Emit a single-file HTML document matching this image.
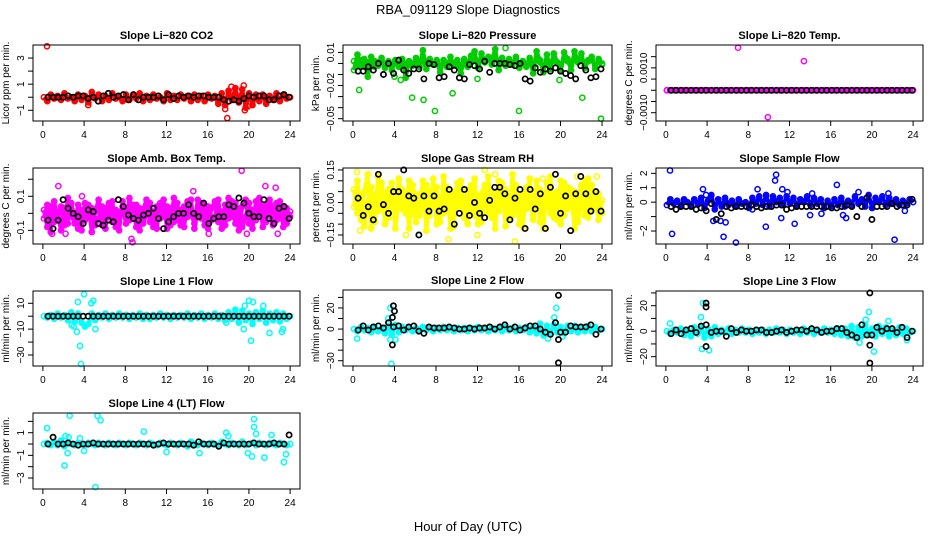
<!DOCTYPE html>
<html><head><meta charset="utf-8">
<style>
html,body{margin:0;padding:0;background:#fff;}
svg{display:block;font-family:"Liberation Sans",sans-serif;}
</style></head>
<body>
<svg id="chart" width="936" height="540" viewBox="0 0 936 540" xmlns="http://www.w3.org/2000/svg">
<rect x="0" y="0" width="936" height="540" fill="#fff"/>
<text x="468" y="14" text-anchor="middle" font-size="13">RBA_091129  Slope Diagnostics</text>
<text x="468" y="531" text-anchor="middle" font-size="13">Hour of Day (UTC)</text>
</svg>
<script>
const xTicks = [0,4,8,12,16,20,24];
const co2Color = [0.0,-0.3,0.2,-0.1,0.1,-0.2,0.3,-0.1,0.0,-0.3,0.2,-0.2,0.1,-0.4,0.4,-0.1,0.2,-0.3,0.1,-0.2,0.3,-0.1,0.0,-0.3,0.2,-0.2,0.1,-0.1,0.3,-0.3,0.1,-0.2,0.2,-0.1,0.0,-0.3,0.3,-0.2,0.1,-0.2,0.2,-0.1,0.1,-0.3,0.2,-0.2,0.1,-0.3,0.2,-0.1,0.1,-0.5,0.3,-0.6,0.5,-0.2,0.7,-0.4,0.6,-0.8,0.3,-0.6,0.2,-0.3,0.2,-0.5,0.1,-0.2,0.3,-0.3,0.2,-0.1,0.0];
const co2Out = [[0.4,3.9],[17.9,-1.6],[17.7,-0.9],[19.6,-1.0],[18.3,0.8],[19.5,0.9],[4.4,-0.6],[19.9,-0.7]];
const co2Black = [0.0,0.0,0.0,0.0,0.1,0.0,0.1,0.1,-0.1,0.0,-0.3,0.1,0.3,0.0,0.1,0.2,-0.2,0.2,-0.2,0.0,0.0,0.0,0.1,-0.2,0.2,-0.1,0.1,0.0,0.1,0.0,0.1,0.1,0.0,0.0,0.0,-0.2,-0.3,-0.2,-0.3,-0.1,0.1,0.0,0.1,0.1,-0.2,-0.2,0.1,0.2,0.0];

const presColor = [-0.006,0.008,-0.002,0.004,-0.012,0.006,-0.003,0.001,0.005,-0.004,0.002,-0.006,0.003,-0.001,0.004,-0.013,0.002,-0.002,0.005,-0.003,0.012,-0.005,0.004,-0.001,0.002,-0.008,0.003,-0.003,0.006,-0.002,0.001,-0.009,0.004,-0.001,0.007,0.011,-0.004,0.009,0.001,0.006,0.003,0.013,-0.006,0.005,-0.002,0.004,-0.001,0.006,-0.004,0.002,-0.003,0.005,-0.009,0.011,0.003,-0.008,0.008,-0.005,0.009,0.001,-0.007,0.010,0.004,-0.006,0.011,0.002,0.009,-0.004,0.003,0.006,-0.005,0.004,-0.001];
const presCore = [0.002,-0.002,0.003,-0.003,0.001,-0.001,0.002,-0.002,0.003,-0.003,0.001,-0.002,0.002,-0.003,0.003,-0.001,0.002,-0.002,0.001,-0.003,0.003,-0.002,0.002,-0.001,0.003,-0.003,0.002,-0.002,0.001,-0.001,0.003,-0.002,0.002,-0.003,0.001,0.004,-0.001,0.003,0.002,0.004,-0.001,0.005,0.002,0.003,-0.002,0.002,-0.001,0.003,-0.003,0.002,-0.002,0.003,-0.002,0.004,0.001,-0.002,0.003,-0.003,0.004,0.001,-0.002,0.004,0.002,-0.002,0.004,0.001,0.003,-0.002,0.002,0.003,-0.002,0.003,0.000];
const presOut = [[0.6,-0.024],[5.7,-0.031],[6.8,-0.033],[7.9,-0.043],[9.6,-0.027],[16,-0.043],[22.1,-0.031],[23.9,-0.05],[19.9,-0.015],[12,-0.014],[4.6,-0.015],[4,-0.012],[14.7,0.014]];
const presBlack = [-0.007,-0.007,-0.003,-0.006,0.0,-0.01,0.0,-0.009,0.003,-0.006,-0.009,-0.005,-0.005,-0.014,0.0,-0.001,-0.013,-0.012,-0.003,-0.006,-0.013,-0.014,-0.001,-0.002,-0.005,0.002,-0.008,0.0,0.0,0.0,-0.001,-0.002,0.0,-0.014,-0.016,-0.004,-0.008,-0.005,-0.007,-0.004,-0.007,-0.009,-0.011,-0.014,-0.002,-0.006,-0.013,-0.012,-0.005];

const tempColor = [0,0,0,0,0,0,0,0,0,0,0,0,0,0,0,0,0,0,0,0,0,0,0,0,0,0,0,0,0,0,0,0,0,0,0,0,0,0,0,0,0,0,0,0,0,0,0,0,0,0,0,0,0,0,0,0,0,0,0,0,0,0,0,0,0,0,0,0,0,0,0,0,0];
const tempOut = [[7.0,0.0019],[13.4,0.0013],[9.9,-0.0012],[0.1,0.0]];
const tempBlack = [0,0,0,0,0,0,0,0,0,0,0,0,0,0,0,0,0,0,0,0,0,0,0,0,0,0,0,0,0,0,0,0,0,0,0,0,0,0,0,0,0,0,0,0,0,0,0,0,0];

const ambColor = [0.02,-0.08,0.04,-0.05,0.0,-0.1,0.03,-0.06,0.06,-0.03,-0.09,0.02,-0.04,0.05,-0.11,0.01,0.08,-0.07,0.03,-0.02,0.07,-0.08,0.0,0.04,-0.06,0.09,-0.03,0.05,-0.1,0.02,0.08,-0.05,0.01,-0.09,0.06,-0.02,0.04,-0.07,0.09,-0.04,0.02,-0.08,0.07,0.0,-0.06,0.08,-0.03,0.05,-0.09,0.03,0.07,-0.05,0.01,-0.07,0.09,-0.02,0.06,-0.1,0.04,0.08,-0.06,0.02,-0.04,0.09,-0.08,0.05,0.0,-0.07,0.06,-0.03,0.04,-0.06,0.01];
const ambColor2 = [-0.03,0.05,-0.11,0.07,-0.02,0.04,-0.07,0.09,-0.01,-0.06,0.05,-0.1,0.06,-0.02,0.03,-0.07,-0.03,0.04,-0.09,0.06,-0.05,0.02,-0.1,0.07,0.01,-0.04,0.05,-0.08,0.03,-0.06,-0.01,0.06,-0.08,0.04,-0.03,0.08,-0.09,0.03,-0.05,0.06,-0.07,0.04,-0.02,0.08,-0.09,0.01,0.06,-0.07,0.04,-0.04,-0.02,0.08,-0.09,0.05,-0.03,0.07,-0.06,0.03,-0.08,-0.02,0.06,-0.09,0.07,-0.01,0.04,-0.05,0.08,0.02,-0.04,0.07,-0.08,0.03,-0.02];
const ambOut = [[19.3,0.25],[8.6,-0.15],[8.7,-0.17],[1.5,0.16],[21.6,0.16],[22.6,0.15],[14.6,0.13],[3.8,0.1],[0.9,-0.12],[2.2,-0.12],[16.1,-0.12],[19.8,-0.12],[22.8,-0.12]];
const ambBlack = [-0.04,-0.09,-0.04,0.08,0.03,0.0,-0.02,-0.06,0.02,0.01,-0.06,-0.07,-0.04,-0.05,0.08,0.04,-0.01,-0.03,-0.04,-0.01,0.0,0.03,-0.03,-0.09,-0.05,-0.02,0.0,0.0,0.05,0.0,-0.02,0.06,-0.06,-0.03,-0.02,-0.02,0.05,0.04,0.09,0.06,0.0,-0.02,-0.02,0.08,-0.03,-0.06,0.03,0.04,-0.03];

const rhColor = [-0.02,0.1,-0.08,0.05,0.13,-0.12,0.03,-0.04,0.09,-0.1,0.06,0.0,-0.07,0.11,-0.03,0.04,-0.12,0.08,0.01,-0.06,0.1,-0.13,0.05,-0.02,0.07,-0.09,0.12,-0.04,0.03,-0.11,0.09,0.0,-0.07,0.06,-0.03,0.11,-0.1,0.04,0.08,-0.05,0.02,-0.12,0.1,-0.01,0.06,-0.08,0.13,-0.04,0.03,-0.11,0.07,0.0,-0.06,0.1,-0.09,0.04,-0.02,0.12,-0.07,0.05,-0.1,0.09,-0.03,0.06,-0.12,0.02,0.08,-0.06,0.11,-0.04,0.05,-0.08,0.01];
const rhColor2 = [0.06,-0.05,0.03,-0.11,0.0,0.07,-0.09,0.12,-0.03,0.04,-0.07,0.09,-0.12,0.02,0.06,-0.05,0.1,-0.02,-0.09,0.04,-0.03,0.08,-0.06,0.11,-0.1,0.02,-0.05,0.07,-0.12,0.05,-0.02,0.1,-0.04,-0.1,0.08,-0.06,0.03,-0.09,0.01,0.12,-0.07,0.05,-0.04,0.09,-0.11,0.03,-0.06,0.08,-0.1,0.04,-0.03,0.11,-0.08,0.02,0.06,-0.12,0.09,-0.05,0.03,-0.08,0.1,-0.06,0.07,-0.02,0.05,-0.09,0.0,0.1,-0.07,0.08,-0.02,0.04,-0.05];
const rhOut = [[0.4,0.14],[0.7,-0.13],[9.2,-0.17],[12,-0.15],[12.7,0.15],[15.6,-0.18],[13.7,0.13],[5.1,-0.15],[16.5,-0.12],[23.5,0.12],[18.3,0.11],[21.6,0.12]];
const rhBlack = [0.02,-0.06,-0.02,-0.08,0.13,-0.01,-0.05,0.05,0.05,0.15,0.03,0.02,-0.15,0.03,-0.04,0.03,-0.04,-0.03,0.06,-0.1,-0.05,0.06,-0.06,0.0,-0.05,-0.07,0.01,0.07,0.07,0.04,-0.08,0.02,0.06,-0.12,0.06,-0.03,0.04,-0.12,0.07,0.13,-0.05,0.03,-0.13,0.04,0.12,0.04,-0.04,0.05,-0.04];

const flowColor = [-0.2,0.2,-0.1,0.1,-0.3,0.2,0.0,-0.2,0.2,-0.1,0.3,-0.4,0.1,0.5,-0.5,0.2,-0.3,0.3,-0.2,0.1,-0.3,0.2,-0.1,0.0,-0.4,0.3,-0.1,0.4,-0.2,0.5,-0.3,0.4,0.0,0.3,-0.2,0.4,-0.1,0.3,-0.3,0.2,0.0,0.4,-0.2,0.3,-0.1,0.2,-0.4,0.1,-0.3,0.2,-0.2,0.3,-0.3,0.1,-0.2,0.4,-0.1,0.2,-0.3,0.5,-0.4,0.3,0.0,0.4,-0.2,0.3,-0.1,0.2,-0.2,0.1,-0.1,0.2,0.0];
const flowOut = [[0.4,2.2],[0.6,-2.2],[3.6,0.9],[4.6,-1.3],[5.3,-1.3],[5.6,-2.4],[5.8,-1.4],[6.8,-2.8],[8.9,0.9],[9.7,-1.7],[10.6,1.5],[10.7,1.9],[11.2,-1.1],[11.3,0.9],[11.8,0.7],[12.5,-1.5],[14.0,-0.9],[14.2,0.6],[15.1,-0.8],[16.6,1.2],[17.2,-0.9],[17.5,-1.1],[18.7,0.7],[21.6,0.6],[22.2,-2.6],[23.2,-0.6],[8.4,-0.5],[3.9,0.5]];
const flowBlack = [-0.3,-0.5,-0.3,-0.3,-0.3,-0.5,-0.4,-0.6,-0.1,-1.2,-0.8,-0.3,-0.4,-0.3,-0.3,-0.3,-0.2,-0.3,-0.4,-0.3,-0.3,-0.2,-0.2,-0.5,-0.4,-0.3,-0.3,-0.3,-0.3,-0.3,-0.3,-0.3,-0.4,-0.4,-0.3,-0.2,-0.3,-1.0,-0.3,0.3,-1.2,-0.3,-0.3,-0.3,-0.1,-0.3,-0.2,-0.2,0.2];

const l1Color = [0,-1,1,-2,2,-1,1,-3,3,-4,2,-5,-8,-6,2,-3,1,-1,2,-2,1,-1,2,-1,1,-2,1,-1,2,-2,1,-2,1,-1,2,-1,1,-2,1,-1,1,-1,2,-2,1,-1,2,-2,1,-1,2,-2,1,-3,3,-2,5,-5,4,-3,2,-6,3,-2,4,-5,2,-3,3,-4,2,-2,0];
const l1Out = [[3.7,-37],[3.6,-23],[3.3,-12],[3.4,11],[4.0,17],[4.7,10],[4.9,12],[5.1,-10],[3.0,-8],[2.8,-7],[20.2,-19],[20.0,12],[19.6,8],[20.4,11],[22.0,-13],[23.2,-12],[23.3,-10],[21.4,8],[19.5,-10],[17.8,-5]];
const l1Black = [0,0,0,0,0,0,0,0,0,0,0,0,0,0,0,0,0,0,0,0,0,0,0,0,0,0,0,0,0,0,0,0,0,0,0,0,0,0,0,0,0,0,0,0,0,0,0,0,0];

const l2Color = [0,-2,2,-1,1,-3,2,-2,1,-4,3,-5,4,-3,2,-1,1,-2,1,-1,2,-1,1,-2,1,-1,2,-1,1,-2,1,-1,1,-2,1,-1,2,-1,1,-2,1,-1,1,-2,2,-1,1,-2,1,-1,2,-3,2,-4,5,-6,3,-5,4,-3,2,-4,3,-2,3,-3,2,-2,3,-2,2,-1,0];
const l2Out = [[3.7,-33],[3.6,20],[3.6,-10],[4.1,-10],[0.4,-9],[19.6,20],[19.4,11],[18.8,-9],[20.2,-7],[3.4,10]];
const l2Black = [-1,3,-1,2,3,1,6,2,3,-1,2,3,-2,-4,2,1,1,1,2,1,0,0,1,0,1,1,2,0,2,4,0,2,-1,1,3,3,0,-3,-5,6,-3,-3,3,2,2,2,4,-5,0];
const l2BlackOut = [[3.9,22],[4.0,17],[3.8,11],[3.8,-15],[19.8,32],[19.8,-32],[19.8,-10]];

const l3Color = [0,-2,1,-1,2,-3,1,-4,3,-2,4,-5,2,-4,3,-2,1,-1,2,-2,1,-1,2,-1,1,-2,1,-1,1,-2,1,-1,2,-1,1,-2,1,-1,1,-2,2,-1,1,-2,1,-1,2,-1,1,-2,2,-3,2,-4,4,-5,3,-4,5,-3,2,-4,4,-2,3,-4,2,-3,3,-2,2,-1,0];
const l3Out = [[3.6,22],[3.4,11],[3.5,-14],[4.2,-15],[0.4,6],[19.7,15],[19.4,9],[20.2,-16],[18.8,-9],[21.6,8],[23.4,-7]];
const l3Black = [-2,1,-2,1,2,-1,4,5,-1,0,0,-4,2,-1,1,0,0,1,1,-1,-1,0,1,-1,0,1,1,0,2,1,-1,0,0,2,2,-1,-3,-5,5,-3,-3,3,0,2,2,-1,3,-5,0];
const l3BlackOut = [[3.9,22],[3.9,19],[3.9,-12],[19.8,30],[19.8,-25],[19.8,-11]];

const l4Color = [0,0.1,-0.1,0.2,-0.1,0.3,-0.2,0.1,0,-0.1,0.1,0,-0.1,0.1,0,-0.1,0.1,0,-0.1,0.1,0,-0.1,0.1,0,-0.1,0.1,0,-0.1,0.1,0,-0.1,0.1,0,-0.1,0.1,0,-0.1,0.1,0,-0.1,0.1,0,-0.2,0.2,0,-0.1,0.1,0,-0.1,0.1,0,-0.1,0.2,0,-0.1,0.1,0,-0.1,0.2,-0.1,0,0.1,-0.1,0.1,0,-0.1,0.1,0,-0.1,0.1,0,-0.1,0];
const l4Out = [[2.6,2.5],[5.3,2.5],[5.6,2.1],[0.4,1.4],[2.1,-1.9],[2.4,-0.8],[5.1,-3.8],[9.8,1.1],[12,-0.7],[15.2,-0.8],[17.8,1.0],[18,0.7],[20.5,2.2],[20.5,1.5],[20.7,0.9],[19.9,-0.8],[20.3,-1.1],[21.5,-1.2],[22.2,0.8],[23.4,-1.6],[23.6,-0.9],[2.2,0.7],[2.5,0.6],[3.6,0.5],[4.0,-0.6]];
const l4Black = [0,0.6,0,0,0.1,0,-0.1,0,0,0.1,0,0,0,0,0,0,0,0,0,0,0,-0.1,0,0.1,0,0,0,0,0,-0.1,0.2,0,0,0,-0.2,0.1,0,0,0,0,0,0.1,0,0,0,0.1,0,0,0.8];

const ns = "http://www.w3.org/2000/svg";
const svg = document.getElementById('chart');
function mk(tag, attrs, parent){ const e=document.createElementNS(ns,tag); for(const k in attrs) e.setAttribute(k,attrs[k]); (parent||svg).appendChild(e); return e; }

const panels = [
 {id:'co2',title:'Slope Li\u2212820 CO2',ylab:'Licor ppm per min.',L:33,T:45,R:300,B:121,ymin:-1.82,ymax:4.0,ticks:[-1,0,1,2,3],labs:{'-1':'\u22121','1':'1','3':'3'},col:'#ff0000',series:[co2Color],out:co2Out,black:co2Black},
 {id:'pressure',title:'Slope Li\u2212820 Pressure',ylab:'kPa per min.',L:343,T:45,R:612,B:121,ymin:-0.0521,ymax:0.0167,ticks:[0.01,0,-0.01,-0.02,-0.03,-0.04,-0.05],labs:{'0.01':'0.01','-0.02':'\u22120.02','-0.05':'\u22120.05'},col:'#00cc00',series:[presColor,presCore],out:presOut,black:presBlack},
 {id:'temp',title:'Slope Li\u2212820 Temp.',ylab:'degrees C per min.',L:656,T:45,R:923,B:121,ymin:-0.00137,ymax:0.00202,ticks:[-0.001,-0.0005,0,0.0005,0.001,0.0015],labs:{'-0.001':'\u22120.0010','0.001':'0.0010'},col:'#ff00ff',series:[tempColor],out:tempOut,black:tempBlack},
 {id:'amb',title:'Slope Amb. Box Temp.',ylab:'degrees C per min.',L:33,T:168,R:300,B:244,ymin:-0.18,ymax:0.266,ticks:[-0.1,0,0.1,0.2],labs:{'-0.1':'\u22120.1','0.1':'0.1'},col:'#ff00ff',series:[ambColor,ambColor2],out:ambOut,black:ambBlack},
 {id:'rh',title:'Slope Gas Stream RH',ylab:'percent per min.',L:343,T:168,R:612,B:244,ymin:-0.1916,ymax:0.159,ticks:[-0.15,-0.1,-0.05,0,0.05,0.1,0.15],labs:{'-0.15':'\u22120.15','0':'0.00','0.15':'0.15'},col:'#ffff00',series:[rhColor,rhColor2],out:rhOut,black:rhBlack},
 {id:'sample-flow',title:'Slope Sample Flow',ylab:'ml/min per min.',L:656,T:168,R:923,B:244,ymin:-2.9,ymax:2.37,ticks:[-2,-1,0,1,2],labs:{'-2':'\u22122','0':'0','1':'1','2':'2'},col:'#0000ff',series:[flowColor],out:flowOut,black:flowBlack},
 {id:'line1',title:'Slope Line 1 Flow',ylab:'ml/min per min.',L:33,T:291,R:300,B:366,ymin:-38.5,ymax:19.5,ticks:[-30,-20,-10,0,10],labs:{'-30':'\u221230','-10':'\u221210','10':'10'},col:'#00ffff',series:[l1Color],out:l1Out,black:l1Black},
 {id:'line2',title:'Slope Line 2 Flow',ylab:'ml/min per min.',L:343,T:290,R:612,B:366,ymin:-35,ymax:37,ticks:[-30,-20,-10,0,10,20,30],labs:{'-30':'\u221230','0':'0','20':'20'},col:'#00ffff',series:[l2Color],out:l2Out,black:l2Black,blackOut:l2BlackOut},
 {id:'line3',title:'Slope Line 3 Flow',ylab:'ml/min per min.',L:656,T:291,R:923,B:366,ymin:-27.3,ymax:31.5,ticks:[-20,-10,0,10,20,30],labs:{'-20':'\u221220','0':'0','20':'20'},col:'#00ffff',series:[l3Color],out:l3Out,black:l3Black,blackOut:l3BlackOut},
 {id:'line4',title:'Slope Line 4 (LT) Flow',ylab:'ml/min per min.',L:33,T:413,R:300,B:489,ymin:-3.97,ymax:2.74,ticks:[-3,-2,-1,0,1,2],labs:{'-3':'\u22123','-1':'\u22121','1':'1'},col:'#00ffff',series:[l4Color],out:l4Out,black:l4Black}
];

panels.forEach(p=>{
  const g = mk('g',{});
  
  
  const xmin=-0.96, xmax=24.96;
  const X = v => p.L + (v-xmin)/(xmax-xmin)*(p.R-p.L);
  const Y = v => p.B - (v-p.ymin)/(p.ymax-p.ymin)*(p.B-p.T);
  const t = mk('text',{x:(p.L+p.R)/2,y:p.T-6,'text-anchor':'middle','font-size':'11','font-weight':'bold'},g);
  t.textContent=p.title;
  
  
  const yl = mk('text',{x:0,y:0,'text-anchor':'middle','font-size':'10',transform:`translate(${p.L-24},${(p.T+p.B)/2}) rotate(-90)`},g);
  yl.textContent=p.ylab;
  
  
  const pts = mk('g',{fill:'none','stroke-width':'1.5'},g);
  
  
  p.series.forEach(arr=>{
    const xs = arr.map((v,i)=>X(0.1+i*23.9/(arr.length-1)));
    // dense band: zig-zag trace of the many overlapping samples
    const band = mk('polyline',{points:arr.map((v,i)=>xs[i]+','+Y(v)).join(' '),fill:'none',stroke:p.col,'stroke-width':'4','stroke-linejoin':'round'},pts);
    
    
    arr.forEach((v,i)=>{
      const c = mk('circle',{cx:xs[i],cy:Y(v),r:2.6,stroke:p.col},pts);
      
      
    });
  });
  p.out.forEach(d=>{
    const c = mk('circle',{cx:X(d[0]),cy:Y(d[1]),r:2.6,stroke:p.col},pts);
    
    
  });
  p.black.forEach((v,i)=>{
    const c = mk('circle',{cx:X(0.5+i*23.4/(p.black.length-1)),cy:Y(v),r:2.6,stroke:'#000','stroke-width':'1.7'},pts);
    
    
  });
  (p.blackOut||[]).forEach(d=>{
    const c = mk('circle',{cx:X(d[0]),cy:Y(d[1]),r:2.6,stroke:'#000','stroke-width':'1.7'},pts);
    
    
  });
  const box = mk('rect',{x:p.L,y:p.T,width:p.R-p.L,height:p.B-p.T,fill:'none',stroke:'#000','stroke-width':'1'},g);
  
  
  const xa = mk('g',{},g);
  
  
  xTicks.forEach(v=>{
    mk('line',{x1:X(v),x2:X(v),y1:p.B,y2:p.B+5,stroke:'#000'},xa);
    const tx = mk('text',{x:X(v),y:p.B+17,'text-anchor':'middle','font-size':'10'},xa);
    tx.textContent=String(v);
    
    
  });
  const ya = mk('g',{},g);
  
  
  p.ticks.forEach(v=>{
    mk('line',{x1:p.L-5,x2:p.L,y1:Y(v),y2:Y(v),stroke:'#000'},ya);
    const lab = p.labs[String(v)];
    if(lab!==undefined){
      const ty = mk('text',{x:0,y:0,'text-anchor':'middle','font-size':'10',transform:`translate(${p.L-9},${Y(v)}) rotate(-90)`},ya);
      ty.textContent=lab;
      
      
    }
  });
});
</script>
</body></html>
